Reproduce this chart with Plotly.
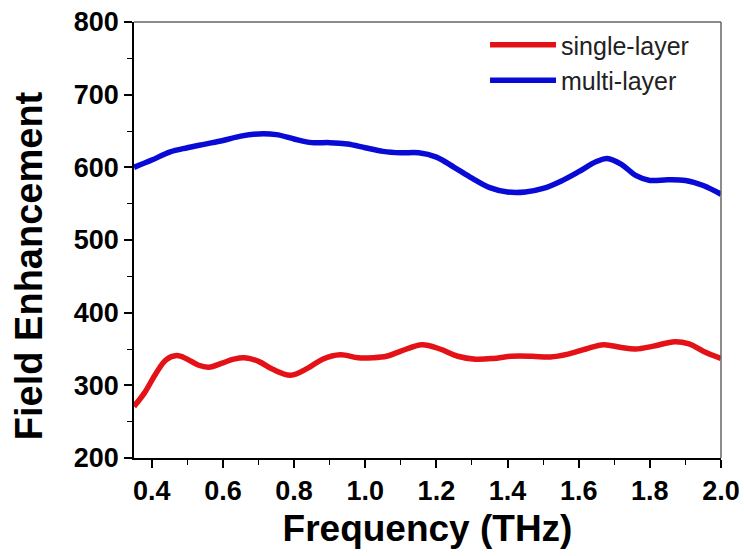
import plotly.graph_objects as go

freq_multi = [0.35, 0.40, 0.45, 0.50, 0.55, 0.60, 0.65, 0.70, 0.75, 0.80, 0.85, 0.90, 0.95, 1.00,
              1.05, 1.10, 1.15, 1.20, 1.25, 1.30, 1.35, 1.40, 1.45, 1.50, 1.55, 1.60, 1.65, 1.68,
              1.72, 1.76, 1.80, 1.85, 1.90, 1.95, 2.00]
multi_layer = [600, 610, 621, 627, 632, 637, 643, 646, 645, 639, 634, 634, 632, 627,
               622, 620, 620, 614, 600, 585, 572, 566, 566, 571, 581, 594, 608, 612,
               604, 589, 582, 583, 582, 575, 563]

freq_single = [0.35, 0.38, 0.41, 0.44, 0.47, 0.50, 0.53, 0.56, 0.60, 0.63, 0.66, 0.70, 0.74,
               0.79, 0.84, 0.88, 0.93, 0.98, 1.02, 1.06, 1.10, 1.16, 1.21, 1.26, 1.31, 1.36,
               1.41, 1.47, 1.52, 1.57, 1.62, 1.67, 1.72, 1.76, 1.81, 1.87, 1.91, 1.95, 2.00]
single_layer = [271, 290, 315, 335, 341, 336, 328, 325, 331, 336, 338, 333, 322,
                314, 324, 336, 342, 338, 338, 340, 347, 356, 350, 340, 336, 337,
                340, 340, 339, 343, 350, 356, 352, 350, 354, 360, 357, 347, 337]

x_ticks = [0.4, 0.6, 0.8, 1.0, 1.2, 1.4, 1.6, 1.8, 2.0]
y_ticks = [200, 300, 400, 500, 600, 700, 800]

FONT = "Arial, Liberation Sans, sans-serif"

fig = go.Figure()
fig.add_trace(go.Scatter(x=freq_single, y=single_layer, mode="lines", name="single-layer",
                         line=dict(color="rgb(228,18,22)", width=5.5, shape="spline", smoothing=1.0)))
fig.add_trace(go.Scatter(x=freq_multi, y=multi_layer, mode="lines", name="multi-layer",
                         line=dict(color="rgb(10,10,215)", width=5.5, shape="spline", smoothing=1.0)))

fig.update_layout(
    width=744, height=556,
    margin=dict(l=134, r=23, t=22, b=98, autoexpand=False),
    paper_bgcolor="white", plot_bgcolor="white",
    font=dict(family=FONT, color="black"),
    showlegend=True,
    legend=dict(x=0.598, y=1.0, xanchor="left", yanchor="top", bgcolor="rgba(0,0,0,0)",
                font=dict(family=FONT, size=25, color="#222"), itemwidth=66,
                tracegroupgap=0),
)

fig.update_xaxes(
    range=[0.35, 2.0], tickvals=x_ticks, ticktext=[f"{v:.1f}" for v in x_ticks],
    automargin=False,
    showgrid=False, zeroline=False, showline=True, linecolor="black", linewidth=1.5,
    ticks="outside", ticklen=8, tickwidth=1.5, tickcolor="black",
    tickfont=dict(family=FONT, size=27, color="black", weight="bold"),
    minor=dict(ticks="outside", ticklen=5, tickwidth=1, tickcolor="black", dtick=0.1, tick0=0.0, showgrid=False),
    title=dict(text="Frequency (THz)", font=dict(family=FONT, size=37, color="black", weight="bold"), standoff=10),
)
fig.update_yaxes(
    range=[200, 800], tickvals=y_ticks,
    automargin=False,
    showgrid=False, zeroline=False, showline=True, linecolor="black", linewidth=1.5,
    ticks="outside", ticklen=8, tickwidth=1.5, tickcolor="black",
    tickfont=dict(family=FONT, size=27, color="black", weight="bold"),
    minor=dict(ticks="outside", ticklen=5, tickwidth=1, tickcolor="black", dtick=50, tick0=0, showgrid=False),
)

# y-axis title (placed slightly below the plot centre, as in the reference)
fig.add_annotation(text="<b>Field Enhancement</b>", xref="paper", yref="paper",
                   x=0, y=0.44, xanchor="center", yanchor="middle", xshift=-105,
                   textangle=-90, showarrow=False,
                   font=dict(family=FONT, size=38, color="black"))

# top and right frame lines (gray)
fig.add_shape(type="line", xref="paper", yref="paper", x0=0, x1=1, y0=1, y1=1,
              line=dict(color="#666", width=1.5))
fig.add_shape(type="line", xref="paper", yref="paper", x0=1, x1=1, y0=0, y1=1,
              line=dict(color="#666", width=1.5))

fig.write_html("out.html")
